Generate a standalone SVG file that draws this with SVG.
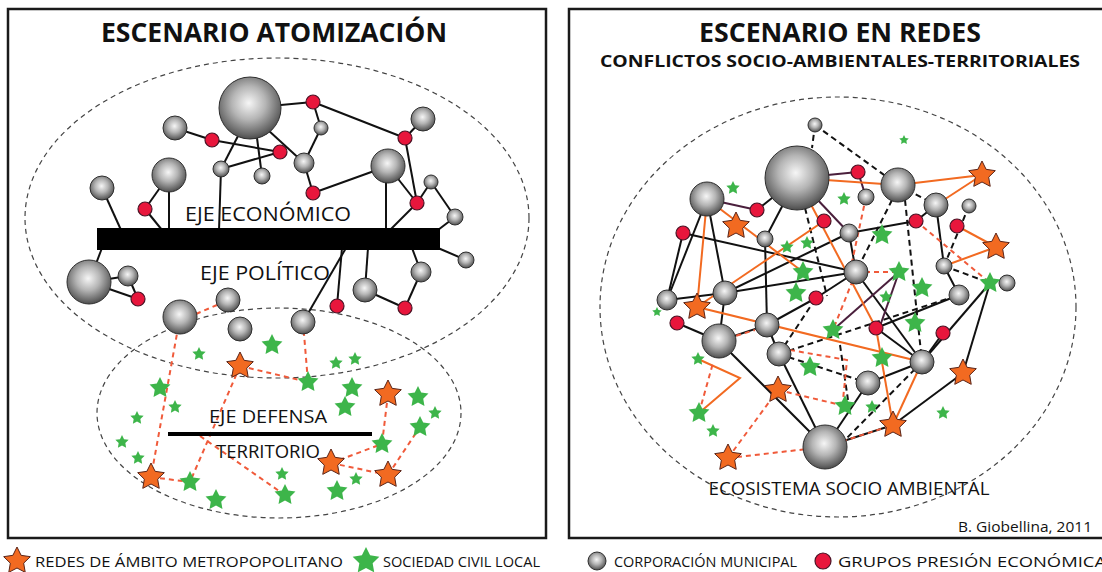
<svg xmlns="http://www.w3.org/2000/svg" xmlns:xlink="http://www.w3.org/1999/xlink" width="1102" height="572" viewBox="0 0 1102 572">
<style>
.frame{fill:none;stroke:#1a1a1a;stroke-width:2.5}
.zone{fill:none;stroke:#444;stroke-width:1.2;stroke-dasharray:5 4}
.k{stroke:#111;stroke-width:2;fill:none}
.p{stroke:#4a1f3c;stroke-width:2;fill:none}
.kd{stroke:#111;stroke-width:2;fill:none;stroke-dasharray:6 4}
.o{stroke:#f26a21;stroke-width:2;fill:none}
.od{stroke:#f05a3a;stroke-width:2;fill:none;stroke-dasharray:5 4}
.g{fill:url(#sph);stroke:#2e2e2e;stroke-width:1}
.r{fill:#e8163c;stroke:#4a1426;stroke-width:1.2}
.os{fill:#f26a21;stroke:#5a2418;stroke-width:1}
.gs{fill:#3db54a}
.t{font-family:"Open Sans","Liberation Sans",sans-serif;fill:#111}
.tb{font-family:"Open Sans","Liberation Sans",sans-serif;font-weight:bold;fill:#111}
</style>
<defs>
<radialGradient id="sph" cx="0.48" cy="0.42" r="0.6">
<stop offset="0" stop-color="#f6f6f6"/>
<stop offset="0.45" stop-color="#b5b5b5"/>
<stop offset="0.85" stop-color="#666"/>
<stop offset="1" stop-color="#444"/>
</radialGradient>
<path id="st14" d="M0,-14L4.11,-5.66L13.32,-4.33L6.66,2.16L8.23,11.33L0,7L-8.23,11.33L-6.66,2.16L-13.32,-4.33L-4.11,-5.66Z"/>
<path id="st11" d="M0,-11L3.23,-4.45L10.46,-3.4L5.23,1.7L6.47,8.9L0,5.5L-6.47,8.9L-5.23,1.7L-10.46,-3.4L-3.23,-4.45Z"/>
<path id="st7" d="M0,-7L2.06,-2.83L6.66,-2.16L3.33,1.08L4.11,5.66L0,3.5L-4.11,5.66L-3.33,1.08L-6.66,-2.16L-2.06,-2.83Z"/>
<path id="st5" d="M0,-5L1.47,-2.02L4.76,-1.55L2.38,0.77L2.94,4.05L0,2.5L-2.94,4.05L-2.38,0.77L-4.76,-1.55L-1.47,-2.02Z"/>
</defs>
<rect width="1102" height="572" fill="#ffffff"/>
<rect class="frame" x="8" y="9" width="538" height="529"/>
<rect class="frame" x="569" y="9" width="545" height="529"/>

<ellipse class="zone" cx="277" cy="218" rx="252" ry="160"/>
<ellipse class="zone" cx="279" cy="413" rx="182" ry="105"/>
<ellipse class="zone" cx="838" cy="307" rx="238" ry="210"/>

<g id="connectors">
<line class="k" x1="250" y1="108" x2="313" y2="102"/>
<line class="k" x1="313" y1="102" x2="321" y2="128"/>
<line class="k" x1="321" y1="128" x2="304" y2="163"/>
<line class="k" x1="313" y1="102" x2="405" y2="138"/>
<line class="k" x1="405" y1="138" x2="423" y2="119"/>
<line class="k" x1="405" y1="138" x2="417" y2="203"/>
<line class="k" x1="388" y1="166" x2="417" y2="203"/>
<line class="k" x1="388" y1="166" x2="313" y2="193"/>
<line class="k" x1="313" y1="193" x2="304" y2="163"/>
<line class="k" x1="304" y1="163" x2="268" y2="130"/>
<line class="k" x1="175" y1="128" x2="212" y2="140"/>
<line class="k" x1="212" y1="140" x2="280" y2="152"/>
<line class="k" x1="238" y1="136" x2="221" y2="169"/>
<line class="k" x1="257" y1="138" x2="262" y2="176"/>
<line class="k" x1="221" y1="169" x2="280" y2="152"/>
<line class="k" x1="221" y1="169" x2="219" y2="230"/>
<line class="k" x1="169" y1="175" x2="169" y2="230"/>
<line class="k" x1="169" y1="175" x2="145" y2="209"/>
<line class="k" x1="145" y1="209" x2="162" y2="230"/>
<line class="k" x1="102" y1="188" x2="121" y2="230"/>
<line class="k" x1="386" y1="166" x2="386" y2="230"/>
<line class="k" x1="417" y1="203" x2="390" y2="230"/>
<line class="k" x1="417" y1="203" x2="431" y2="182"/>
<line class="k" x1="431" y1="182" x2="455" y2="217"/>
<line class="k" x1="455" y1="217" x2="438" y2="230"/>
<line class="k" x1="438" y1="248" x2="466" y2="260"/>
<line class="k" x1="102" y1="248" x2="89" y2="282"/>
<line class="k" x1="89" y1="282" x2="128" y2="276"/>
<line class="k" x1="89" y1="282" x2="138" y2="299"/>
<line class="k" x1="128" y1="276" x2="138" y2="299"/>
<line class="k" x1="346" y1="248" x2="303" y2="322"/>
<line class="k" x1="342" y1="248" x2="337" y2="306"/>
<line class="k" x1="368" y1="248" x2="365" y2="290"/>
<line class="k" x1="365" y1="290" x2="405" y2="308"/>
<line class="k" x1="405" y1="308" x2="421" y2="272"/>
<line class="k" x1="421" y1="272" x2="412" y2="248"/>
<line class="od" x1="180" y1="317" x2="151" y2="477"/>
<line class="od" x1="196" y1="314" x2="217" y2="305"/>
<line class="od" x1="303" y1="322" x2="308" y2="382"/>
<line class="od" x1="240" y1="366" x2="308" y2="382"/>
<line class="od" x1="240" y1="366" x2="190" y2="482"/>
<line class="od" x1="200" y1="436" x2="282" y2="493"/>
<line class="od" x1="151" y1="477" x2="190" y2="482"/>
<line class="od" x1="388" y1="394" x2="382" y2="444"/>
<line class="od" x1="331" y1="463" x2="382" y2="444"/>
<line class="od" x1="331" y1="463" x2="388" y2="475"/>
<line class="od" x1="388" y1="475" x2="420" y2="427"/>
<line class="p" x1="707" y1="199" x2="757" y2="210"/>
<line class="k" x1="757" y1="210" x2="797" y2="178"/>
<line class="p" x1="797" y1="178" x2="858" y2="172"/>
<line class="p" x1="858" y1="172" x2="866" y2="197"/>
<line class="k" x1="797" y1="178" x2="765" y2="239"/>
<line class="p" x1="797" y1="178" x2="849" y2="233"/>
<line class="k" x1="707" y1="199" x2="667" y2="300"/>
<line class="k" x1="683" y1="233" x2="667" y2="300"/>
<line class="k" x1="707" y1="199" x2="725" y2="293"/>
<line class="k" x1="683" y1="233" x2="856" y2="272"/>
<line class="k" x1="765" y1="239" x2="767" y2="325"/>
<line class="k" x1="725" y1="293" x2="856" y2="272"/>
<line class="k" x1="725" y1="293" x2="849" y2="233"/>
<line class="k" x1="849" y1="233" x2="916" y2="221"/>
<line class="k" x1="916" y1="221" x2="936" y2="205"/>
<line class="k" x1="667" y1="300" x2="725" y2="293"/>
<line class="k" x1="849" y1="233" x2="856" y2="272"/>
<line class="k" x1="856" y1="272" x2="922" y2="362"/>
<line class="k" x1="936" y1="205" x2="944" y2="266"/>
<line class="k" x1="944" y1="266" x2="959" y2="295"/>
<line class="k" x1="876" y1="328" x2="959" y2="295"/>
<line class="k" x1="856" y1="272" x2="816" y2="298"/>
<line class="k" x1="816" y1="298" x2="767" y2="325"/>
<line class="k" x1="767" y1="325" x2="779" y2="354"/>
<line class="k" x1="719" y1="341" x2="767" y2="325"/>
<line class="k" x1="719" y1="341" x2="825" y2="447"/>
<line class="k" x1="779" y1="354" x2="825" y2="447"/>
<line class="k" x1="825" y1="447" x2="868" y2="383"/>
<line class="k" x1="825" y1="447" x2="893" y2="425"/>
<line class="k" x1="893" y1="425" x2="963" y2="373"/>
<line class="k" x1="868" y1="383" x2="922" y2="362"/>
<line class="k" x1="876" y1="328" x2="922" y2="362"/>
<line class="k" x1="943" y1="333" x2="922" y2="362"/>
<line class="k" x1="677" y1="323" x2="719" y2="341"/>
<line class="k" x1="725" y1="293" x2="719" y2="341"/>
<line class="k" x1="990" y1="283" x2="963" y2="373"/>
<line class="k" x1="990" y1="283" x2="922" y2="362"/>
<line class="p" x1="899" y1="272" x2="833" y2="330"/>
<line class="p" x1="899" y1="272" x2="880" y2="326"/>
<line class="kd" x1="815" y1="125" x2="812" y2="148"/>
<line class="kd" x1="815" y1="125" x2="898" y2="185"/>
<line class="kd" x1="898" y1="185" x2="936" y2="205"/>
<line class="kd" x1="892" y1="200" x2="856" y2="272"/>
<line class="kd" x1="905" y1="200" x2="922" y2="362"/>
<line class="kd" x1="969" y1="206" x2="944" y2="266"/>
<line class="kd" x1="944" y1="266" x2="990" y2="283"/>
<line class="kd" x1="805" y1="208" x2="827" y2="296"/>
<line class="kd" x1="779" y1="354" x2="959" y2="295"/>
<line class="kd" x1="779" y1="354" x2="868" y2="383"/>
<line class="kd" x1="779" y1="354" x2="816" y2="298"/>
<line class="kd" x1="922" y1="362" x2="840" y2="445"/>
<line class="kd" x1="840" y1="345" x2="848" y2="400"/>
<line class="o" x1="797" y1="178" x2="898" y2="185"/>
<line class="o" x1="898" y1="185" x2="982" y2="175"/>
<line class="o" x1="982" y1="175" x2="936" y2="205"/>
<line class="o" x1="957" y1="226" x2="996" y2="247"/>
<line class="o" x1="996" y1="247" x2="944" y2="266"/>
<line class="o" x1="707" y1="199" x2="803" y2="272"/>
<line class="o" x1="707" y1="199" x2="697" y2="307"/>
<line class="o" x1="697" y1="307" x2="824" y2="221"/>
<line class="o" x1="797" y1="178" x2="876" y2="328"/>
<line class="o" x1="876" y1="328" x2="893" y2="425"/>
<line class="o" x1="697" y1="307" x2="922" y2="362"/>
<line class="o" x1="893" y1="425" x2="922" y2="362"/>
<polyline class="o" points="698,359 740,378 699,413"/>
<line class="od" x1="728" y1="458" x2="825" y2="447"/>
<line class="od" x1="728" y1="458" x2="778" y2="390"/>
<line class="od" x1="778" y1="390" x2="845" y2="406"/>
<line class="od" x1="825" y1="447" x2="893" y2="425"/>
<line class="od" x1="699" y1="413" x2="713" y2="363"/>
<line class="od" x1="916" y1="221" x2="990" y2="283"/>
<line class="od" x1="856" y1="272" x2="899" y2="272"/>
<line class="od" x1="856" y1="272" x2="833" y2="330"/>
<line class="od" x1="866" y1="197" x2="852" y2="262"/>
<polyline class="od" points="790,350 847,360 843,400"/>
<line class="od" x1="719" y1="341" x2="755" y2="330"/>
</g>

<rect id="eje-bar" x="97" y="228" width="343" height="22" fill="#000"/>
<line id="defensa-bar" x1="168" y1="434" x2="372" y2="434" stroke="#000" stroke-width="4"/>

<g id="L-g1"><circle class="g" cx="250" cy="108" r="31"/></g>
<g id="L-g2"><circle class="g" cx="321" cy="128" r="7"/></g>
<g id="L-g3"><circle class="g" cx="423" cy="119" r="12"/></g>
<g id="L-g4"><circle class="g" cx="175" cy="128" r="12"/></g>
<g id="L-g5"><circle class="g" cx="221" cy="169" r="8"/></g>
<g id="L-g6"><circle class="g" cx="262" cy="176" r="8"/></g>
<g id="L-g7"><circle class="g" cx="304" cy="163" r="10"/></g>
<g id="L-g8"><circle class="g" cx="388" cy="166" r="17"/></g>
<g id="L-g9"><circle class="g" cx="169" cy="175" r="17"/></g>
<g id="L-g10"><circle class="g" cx="102" cy="188" r="12"/></g>
<g id="L-g11"><circle class="g" cx="431" cy="182" r="7"/></g>
<g id="L-g12"><circle class="g" cx="455" cy="217" r="8"/></g>
<g id="L-g13"><circle class="g" cx="466" cy="260" r="8"/></g>
<g id="L-g14"><circle class="g" cx="89" cy="282" r="22"/></g>
<g id="L-g15"><circle class="g" cx="128" cy="276" r="10"/></g>
<g id="L-g16"><circle class="g" cx="421" cy="272" r="10"/></g>
<g id="L-g17"><circle class="g" cx="365" cy="290" r="12"/></g>
<g id="L-g18"><circle class="g" cx="228" cy="300" r="12"/></g>
<g id="L-g19"><circle class="g" cx="180" cy="317" r="17"/></g>
<g id="L-g20"><circle class="g" cx="240" cy="329" r="12"/></g>
<g id="L-g21"><circle class="g" cx="303" cy="322" r="12"/></g>
<g id="L-r1"><circle class="r" cx="313" cy="102" r="7"/></g>
<g id="L-r2"><circle class="r" cx="405" cy="138" r="7"/></g>
<g id="L-r3"><circle class="r" cx="212" cy="140" r="7"/></g>
<g id="L-r4"><circle class="r" cx="280" cy="152" r="7"/></g>
<g id="L-r5"><circle class="r" cx="313" cy="193" r="7"/></g>
<g id="L-r6"><circle class="r" cx="145" cy="209" r="7"/></g>
<g id="L-r7"><circle class="r" cx="417" cy="203" r="7"/></g>
<g id="L-r8"><circle class="r" cx="138" cy="299" r="7"/></g>
<g id="L-r9"><circle class="r" cx="337" cy="306" r="7"/></g>
<g id="L-r10"><circle class="r" cx="405" cy="308" r="7"/></g>
<g id="L-s1"><use href="#st14" class="os" x="240" y="366"/></g>
<g id="L-s2"><use href="#st14" class="os" x="388" y="394"/></g>
<g id="L-s3"><use href="#st14" class="os" x="151" y="477"/></g>
<g id="L-s4"><use href="#st14" class="os" x="331" y="463"/></g>
<g id="L-s5"><use href="#st14" class="os" x="388" y="475"/></g>
<g id="L-c1"><use href="#st11" class="gs" x="272" y="345"/></g>
<g id="L-c2"><use href="#st7" class="gs" x="199" y="354"/></g>
<g id="L-c3"><use href="#st11" class="gs" x="308" y="382"/></g>
<g id="L-c4"><use href="#st7" class="gs" x="336" y="363"/></g>
<g id="L-c5"><use href="#st7" class="gs" x="355" y="359"/></g>
<g id="L-c6"><use href="#st11" class="gs" x="352" y="388"/></g>
<g id="L-c7"><use href="#st11" class="gs" x="345" y="407"/></g>
<g id="L-c8"><use href="#st11" class="gs" x="160" y="388"/></g>
<g id="L-c9"><use href="#st7" class="gs" x="175" y="407"/></g>
<g id="L-c10"><use href="#st7" class="gs" x="137" y="418"/></g>
<g id="L-c11"><use href="#st7" class="gs" x="122" y="442"/></g>
<g id="L-c12"><use href="#st7" class="gs" x="138" y="458"/></g>
<g id="L-c13"><use href="#st11" class="gs" x="418" y="397"/></g>
<g id="L-c14"><use href="#st7" class="gs" x="435" y="413"/></g>
<g id="L-c15"><use href="#st11" class="gs" x="420" y="427"/></g>
<g id="L-c16"><use href="#st11" class="gs" x="382" y="444"/></g>
<g id="L-c17"><use href="#st7" class="gs" x="356" y="479"/></g>
<g id="L-c18"><use href="#st11" class="gs" x="337" y="491"/></g>
<g id="L-c19"><use href="#st7" class="gs" x="282" y="474"/></g>
<g id="L-c20"><use href="#st11" class="gs" x="285" y="495"/></g>
<g id="L-c21"><use href="#st11" class="gs" x="216" y="500"/></g>
<g id="L-c22"><use href="#st11" class="gs" x="190" y="482"/></g>

<g id="R-g1"><circle class="g" cx="815" cy="125" r="7"/></g>
<g id="R-g2"><circle class="g" cx="797" cy="178" r="32"/></g>
<g id="R-g3"><circle class="g" cx="898" cy="185" r="17"/></g>
<g id="R-g4"><circle class="g" cx="707" cy="199" r="17"/></g>
<g id="R-g5"><circle class="g" cx="866" cy="197" r="8"/></g>
<g id="R-g6"><circle class="g" cx="936" cy="205" r="12"/></g>
<g id="R-g7"><circle class="g" cx="969" cy="206" r="7"/></g>
<g id="R-g8"><circle class="g" cx="765" cy="239" r="8"/></g>
<g id="R-g9"><circle class="g" cx="849" cy="233" r="9"/></g>
<g id="R-g10"><circle class="g" cx="944" cy="266" r="8"/></g>
<g id="R-g11"><circle class="g" cx="856" cy="272" r="12"/></g>
<g id="R-g12"><circle class="g" cx="1007" cy="283" r="8"/></g>
<g id="R-g13"><circle class="g" cx="959" cy="295" r="10"/></g>
<g id="R-g14"><circle class="g" cx="725" cy="293" r="12"/></g>
<g id="R-g15"><circle class="g" cx="667" cy="300" r="10"/></g>
<g id="R-g16"><circle class="g" cx="767" cy="325" r="12"/></g>
<g id="R-g17"><circle class="g" cx="719" cy="341" r="17"/></g>
<g id="R-g18"><circle class="g" cx="779" cy="354" r="12"/></g>
<g id="R-g19"><circle class="g" cx="922" cy="362" r="12"/></g>
<g id="R-g20"><circle class="g" cx="868" cy="383" r="12"/></g>
<g id="R-g21"><circle class="g" cx="825" cy="447" r="22"/></g>
<g id="R-r1"><circle class="r" cx="858" cy="172" r="7"/></g>
<g id="R-r2"><circle class="r" cx="757" cy="210" r="7"/></g>
<g id="R-r3"><circle class="r" cx="683" cy="233" r="7"/></g>
<g id="R-r4"><circle class="r" cx="824" cy="221" r="7"/></g>
<g id="R-r5"><circle class="r" cx="916" cy="221" r="7"/></g>
<g id="R-r6"><circle class="r" cx="957" cy="226" r="7"/></g>
<g id="R-r7"><circle class="r" cx="816" cy="298" r="7"/></g>
<g id="R-r8"><circle class="r" cx="677" cy="323" r="7"/></g>
<g id="R-r9"><circle class="r" cx="876" cy="328" r="7"/></g>
<g id="R-r10"><circle class="r" cx="943" cy="333" r="7"/></g>
<g id="R-s1"><use href="#st14" class="os" x="982" y="175"/></g>
<g id="R-s2"><use href="#st14" class="os" x="736" y="226"/></g>
<g id="R-s3"><use href="#st14" class="os" x="996" y="247"/></g>
<g id="R-s4"><use href="#st14" class="os" x="697" y="307"/></g>
<g id="R-s5"><use href="#st14" class="os" x="963" y="373"/></g>
<g id="R-s6"><use href="#st14" class="os" x="778" y="390"/></g>
<g id="R-s7"><use href="#st14" class="os" x="893" y="425"/></g>
<g id="R-s8"><use href="#st14" class="os" x="728" y="458"/></g>
<g id="R-c1"><use href="#st5" class="gs" x="904" y="140"/></g>
<g id="R-c2"><use href="#st7" class="gs" x="733" y="188"/></g>
<g id="R-c3"><use href="#st7" class="gs" x="844" y="199"/></g>
<g id="R-c4"><use href="#st11" class="gs" x="882" y="235"/></g>
<g id="R-c5"><use href="#st7" class="gs" x="787" y="247"/></g>
<g id="R-c6"><use href="#st7" class="gs" x="807" y="243"/></g>
<g id="R-c7"><use href="#st11" class="gs" x="803" y="272"/></g>
<g id="R-c8"><use href="#st11" class="gs" x="899" y="272"/></g>
<g id="R-c9"><use href="#st11" class="gs" x="990" y="283"/></g>
<g id="R-c10"><use href="#st11" class="gs" x="796" y="293"/></g>
<g id="R-c11"><use href="#st11" class="gs" x="922" y="288"/></g>
<g id="R-c12"><use href="#st7" class="gs" x="886" y="297"/></g>
<g id="R-c13"><use href="#st5" class="gs" x="657" y="312"/></g>
<g id="R-c14"><use href="#st11" class="gs" x="833" y="330"/></g>
<g id="R-c15"><use href="#st11" class="gs" x="915" y="323"/></g>
<g id="R-c16"><use href="#st11" class="gs" x="882" y="358"/></g>
<g id="R-c17"><use href="#st11" class="gs" x="810" y="367"/></g>
<g id="R-c18"><use href="#st7" class="gs" x="698" y="359"/></g>
<g id="R-c19"><use href="#st11" class="gs" x="699" y="413"/></g>
<g id="R-c20"><use href="#st7" class="gs" x="713" y="431"/></g>
<g id="R-c21"><use href="#st11" class="gs" x="845" y="406"/></g>
<g id="R-c22"><use href="#st7" class="gs" x="872" y="407"/></g>
<g id="R-c23"><use href="#st7" class="gs" x="943" y="413"/></g>

<text class="tb" x="274" y="42" font-size="27" text-anchor="middle" textLength="346" lengthAdjust="spacingAndGlyphs">ESCENARIO ATOMIZACIÓN</text>
<text class="tb" x="840" y="42" font-size="27" text-anchor="middle" textLength="282" lengthAdjust="spacingAndGlyphs">ESCENARIO EN REDES</text>
<text class="tb" x="840" y="67" font-size="16" text-anchor="middle" textLength="480" lengthAdjust="spacingAndGlyphs">CONFLICTOS SOCIO-AMBIENTALES-TERRITORIALES</text>
<text class="t" x="268" y="221" font-size="20" text-anchor="middle" textLength="166" lengthAdjust="spacingAndGlyphs">EJE ECONÓMICO</text>
<text class="t" x="265" y="280" font-size="20" text-anchor="middle" textLength="130" lengthAdjust="spacingAndGlyphs">EJE POLÍTICO</text>
<text class="t" x="268" y="423" font-size="19" text-anchor="middle" textLength="118" lengthAdjust="spacingAndGlyphs">EJE DEFENSA</text>
<text class="t" x="268" y="458" font-size="19" text-anchor="middle" textLength="104" lengthAdjust="spacingAndGlyphs">TERRITORIO</text>
<text class="t" x="849" y="495" font-size="19" text-anchor="middle" textLength="281" lengthAdjust="spacingAndGlyphs">ECOSISTEMA SOCIO AMBIENTAL</text>
<text class="t" x="1092" y="532" font-size="14" text-anchor="end" textLength="134" lengthAdjust="spacingAndGlyphs">B. Giobellina, 2011</text>

<g id="legend">
<use href="#st14" class="os" x="17" y="561"/>
<text class="t" x="35" y="567" font-size="15" textLength="308" lengthAdjust="spacingAndGlyphs">REDES DE ÁMBITO METROPOPOLITANO</text>
<use href="#st14" class="gs" x="366" y="561"/>
<text class="t" x="383" y="567" font-size="15" textLength="157" lengthAdjust="spacingAndGlyphs">SOCIEDAD CIVIL LOCAL</text>
<circle class="g" cx="597" cy="561" r="9"/>
<text class="t" x="614" y="567" font-size="15" textLength="183" lengthAdjust="spacingAndGlyphs">CORPORACIÓN MUNICIPAL</text>
<circle class="r" cx="823" cy="561" r="8"/>
<text class="t" x="838" y="567" font-size="15" textLength="268" lengthAdjust="spacingAndGlyphs">GRUPOS PRESIÓN ECONÓMICA</text>
</g>
</svg>
